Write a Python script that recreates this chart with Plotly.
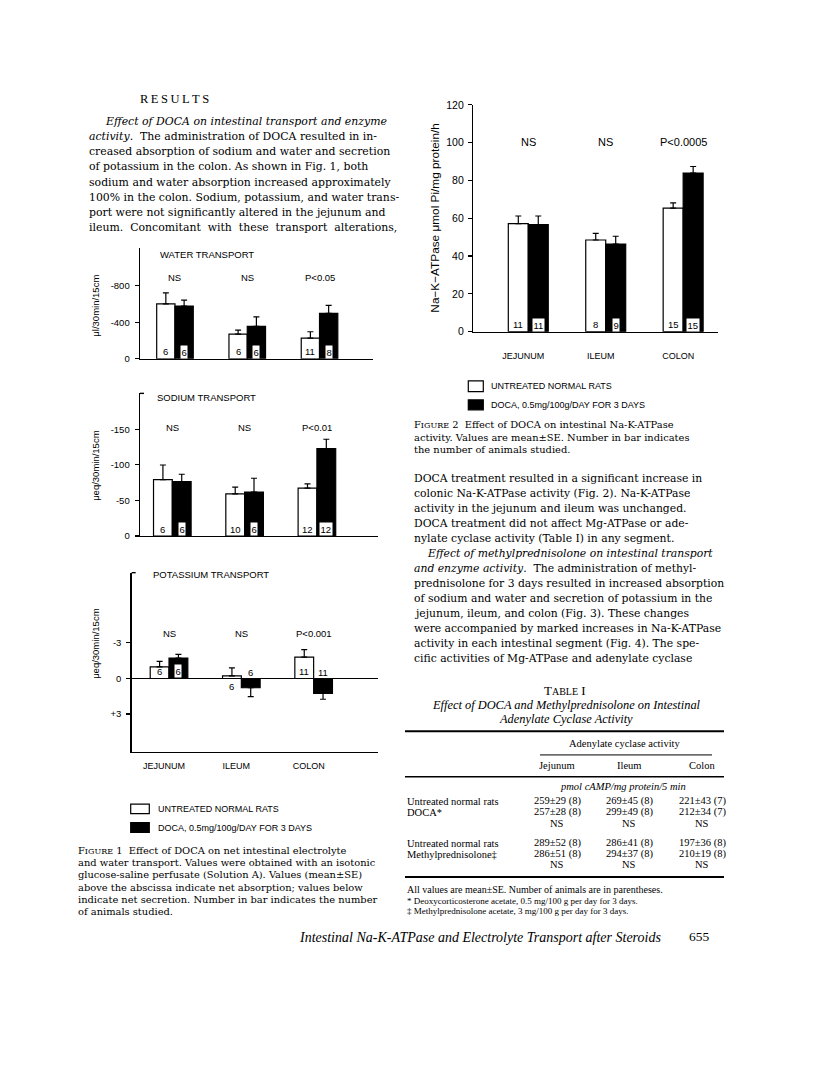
import plotly.graph_objects as go

W, H = 816, 1086
SANS = "Liberation Sans, Arial, sans-serif"
SERIF = "Liberation Serif, Times New Roman, serif"
BODY = "DejaVu Serif, serif"

# ---------------- data ----------------
segments = ["JEJUNUM", "ILEUM", "COLON"]
group_names = ["UNTREATED NORMAL RATS", "DOCA, 0.5mg/100g/DAY FOR 3 DAYS"]

# Figure 1 - water transport (ul/30min/15cm; negative = net absorption)
water_ctrl = [-602, -270, -227]
water_ctrl_se = [119, 44, 69]
water_doca = [-577, -354, -497]
water_doca_se = [65, 104, 87]
water_n_ctrl = [6, 6, 11]
water_n_doca = [6, 6, 8]
water_sig = ["NS", "NS", "P<0.05"]
water_ticks = [0, -400, -800]
water_ticktext = ["0", "-400", "-800"]

# Figure 1 - sodium transport (ueq/30min/15cm)
sodium_ctrl = [-79.4, -59.4, -67.3]
sodium_ctrl_se = [20.4, 9.3, 6.1]
sodium_doca = [-76.6, -61.8, -123.0]
sodium_doca_se = [10.2, 19.4, 13.0]
sodium_n_ctrl = [6, 10, 12]
sodium_n_doca = [6, 6, 12]
sodium_sig = ["NS", "NS", "P<0.01"]
sodium_ticks = [0, -50, -100, -150]
sodium_ticktext = ["0", "-50", "-100", "-150"]

# Figure 1 - potassium transport (ueq/30min/15cm)
pot_ctrl = [-0.97, -0.22, -1.80]
pot_ctrl_se = [0.47, 0.67, 0.64]
pot_doca = [-1.72, 0.78, 1.25]
pot_doca_se = [0.31, 0.75, 0.50]
pot_n_ctrl = [6, 6, 11]
pot_n_doca = [6, 6, 11]
pot_sig = ["NS", "NS", "P<0.001"]
pot_ticks = [-3, 0, 3]
pot_ticktext = ["-3", "0", "+3"]

# Figure 2 - Na-K-ATPase (umol Pi/mg protein/h)
atp_ctrl = [57.2, 48.5, 65.4]
atp_ctrl_se = [4.0, 3.5, 2.8]
atp_doca = [56.7, 46.4, 83.9]
atp_doca_se = [4.5, 4.1, 3.5]
atp_n_ctrl = [11, 8, 15]
atp_n_doca = [11, 9, 15]
atp_sig = ["NS", "NS", "P<0.0005"]
atp_ticks = [0, 20, 40, 60, 80, 100, 120]

# Table I - adenylate cyclase activity
table_cols = ["Jejunum", "Ileum", "Colon"]
table_unit = "pmol cAMP/mg protein/5 min"
tab_rows = [
    ("Untreated normal rats", ["259\u00b129 (8)", "269\u00b145 (8)", "221\u00b143 (7)"]),
    ("DOCA*", ["257\u00b128 (8)", "299\u00b149 (8)", "212\u00b134 (7)"]),
    ("", ["NS", "NS", "NS"]),
    ("Untreated normal rats", ["289\u00b152 (8)", "286\u00b141 (8)", "197\u00b136 (8)"]),
    ("Methylprednisolone\u2021", ["286\u00b151 (8)", "294\u00b137 (8)", "210\u00b119 (8)"]),
    ("", ["NS", "NS", "NS"]),
]

# ---------------- helpers ----------------
def px(x):
    return x / W

def py(y):
    return 1 - y / H

ann = []
shapes = []

def txt(x, y, s, size=13, anchor="left", family=SERIF, **kw):
    ann.append(dict(xref="paper", yref="paper", x=px(x), y=py(y), text=s,
                    showarrow=False, xanchor=anchor, yanchor="middle",
                    font=dict(family=family, size=size, color="black"), **kw))

def hline(x0, x1, y, w=1.0):
    shapes.append(dict(type="line", xref="paper", yref="paper", x0=px(x0), x1=px(x1),
                       y0=py(y), y1=py(y), line=dict(color="black", width=w)))

def rect(x0, x1, y0, y1, fill):
    shapes.append(dict(type="rect", xref="paper", yref="paper", x0=px(x0), x1=px(x1),
                       y0=py(y1), y1=py(y0), fillcolor=fill, line=dict(color="black", width=1.2)))

panels = [
    dict(title="WATER TRANSPORT", ylab="\u03bcl/30min/15cm",
         ctrl=water_ctrl, ctrl_se=water_ctrl_se, doca=water_doca, doca_se=water_doca_se,
         n_ctrl=water_n_ctrl, n_doca=water_n_doca, sig=water_sig,
         tv=water_ticks, tt=water_ticktext, box=(140, 373, 245, 356.7), yrange=[0, -1210],
         xrange=[-0.484, 2.74], bw=0.253, up=-1, title_xy=(158, 251.7), sig_y=275,
         ylab_xy=(96, 303), showcat=False, fs=9.5, lfs=9.5, tfs=9.5, tso=3, zl=False,
         toptick=False),
    dict(title="SODIUM TRANSPORT", ylab="\u03bceq/30min/15cm",
         ctrl=sodium_ctrl, ctrl_se=sodium_ctrl_se, doca=sodium_doca, doca_se=sodium_doca_se,
         n_ctrl=sodium_n_ctrl, n_doca=sodium_n_doca, sig=sodium_sig,
         tv=sodium_ticks, tt=sodium_ticktext, box=(140, 378, 391.7, 536), yrange=[0, -200.4],
         xrange=[-0.447, 2.845], bw=0.26, up=-1, title_xy=(155, 396), sig_y=426.7,
         ylab_xy=(96, 465), showcat=False, fs=9.5, lfs=9.5, tfs=9.5, tso=3, zl=False,
         toptick=True),
    dict(title="POTASSIUM TRANSPORT", ylab="\u03bceq/30min/15cm",
         ctrl=pot_ctrl, ctrl_se=pot_ctrl_se, doca=pot_doca, doca_se=pot_doca_se,
         n_ctrl=pot_n_ctrl, n_doca=pot_n_doca, sig=pot_sig,
         tv=pot_ticks, tt=pot_ticktext, box=(131.7, 378, 573, 754), yrange=[6.17, -8.92],
         xrange=[-0.516, 2.89], bw=0.26, up=-1, title_xy=(150.7, 575), sig_y=635,
         ylab_xy=(96, 645), showcat=True, standoff=5, fs=9.5, lfs=9.5, tfs=9.5, tso=3,
         zl=True, toptick=True),
    dict(title=None, ylab="Na\u2212K\u2212ATPase \u03bcmol Pi/mg protein/h",
         ctrl=atp_ctrl, ctrl_se=atp_ctrl_se, doca=atp_doca, doca_se=atp_doca_se,
         n_ctrl=atp_n_ctrl, n_doca=atp_n_doca, sig=atp_sig,
         tv=atp_ticks, tt=[str(t) for t in atp_ticks], box=(473.3, 718, 100, 329.3),
         yrange=[0, 120], xrange=[-0.71, 2.45], bw=0.258, up=1, title_xy=None, sig_y=137.3,
         ylab_xy=(435, 214), showcat=True, standoff=15, fs=11, lfs=11.8, tfs=10.5, tso=2,
         zl=False, toptick=False),
]

fig = go.Figure()
layout_axes = {}

for i, p in enumerate(panels):
    sx = "" if i == 0 else str(i + 1)
    xa, ya = "x" + sx, "y" + sx
    x0, x1, y0, y1 = p["box"]
    bw = p["bw"]
    for vals, ses, color, off, name in [
        (p["ctrl"], p["ctrl_se"], "white", -bw, group_names[0]),
        (p["doca"], p["doca_se"], "black", 0.0, group_names[1]),
    ]:
        plus = [s if v > 0 else 0 for v, s in zip(vals, ses)]
        minus = [s if v < 0 else 0 for v, s in zip(vals, ses)]
        fig.add_trace(go.Bar(
            x=segments, y=vals, width=bw, offset=off, name=name,
            marker=dict(color=color, line=dict(color="black", width=1.2)),
            error_y=dict(type="data", symmetric=False, array=plus, arrayminus=minus,
                         color="black", thickness=1.2, width=3),
            xaxis=xa, yaxis=ya, showlegend=False, hoverinfo="skip"))

    layout_axes["xaxis" + sx] = dict(
        domain=[px(x0), px(x1)], anchor=ya, type="category", categoryarray=segments,
        range=p["xrange"], showline=True, linecolor="black", linewidth=1.4,
        ticks="", showgrid=False, zeroline=False, showticklabels=p["showcat"],
        tickfont=dict(family=SANS, size=9, color="black"),
        ticklabelstandoff=p.get("standoff", 0), ticklabelshift=-5, fixedrange=True)
    layout_axes["yaxis" + sx] = dict(
        domain=[py(y1), py(y0)], anchor=xa, range=p["yrange"], autorange=False,
        showline=True, linecolor="black", linewidth=1.4, ticks="outside", ticklen=4,
        tickwidth=1.2, tickcolor="black", tickvals=p["tv"], ticktext=p["tt"],
        tickfont=dict(family=SANS, size=p["tfs"], color="black"),
        ticklabelstandoff=p["tso"],
        showgrid=False, zeroline=p["zl"], zerolinecolor="black", zerolinewidth=1.4,
        fixedrange=True)

    if p["title"]:
        txt(p["title_xy"][0], p["title_xy"][1], p["title"], size=9.5, family=SANS)
    txt(p["ylab_xy"][0], p["ylab_xy"][1], p["ylab"], size=p["lfs"],
        anchor="center", family=SANS, textangle=-90)
    for j, s in enumerate(p["sig"]):
        ann.append(dict(xref=xa, yref="paper", x=j, y=py(p["sig_y"]), text=s,
                        showarrow=False, xanchor="center", yanchor="middle",
                        font=dict(family=SANS, size=p["fs"], color="black")))
    # numbers of animals inside / next to the bars
    ppu = (y1 - y0) / abs(p["yrange"][1] - p["yrange"][0])
    for j in range(3):
        for vals, ns, pos, dark in [(p["ctrl"], p["n_ctrl"], j - bw / 2, False),
                                    (p["doca"], p["n_doca"], j + bw / 2, True)]:
            v = vals[j]
            goes_up = v * p["up"] > 0
            hpx = abs(v) * ppu
            boxed = False
            if goes_up and hpx >= 10:
                ys = 7
                boxed = dark
            elif goes_up:
                ys = -8
            else:
                ys = 6
            a = dict(xref=xa, yref=ya, x=pos, y=0, yshift=ys, text=str(ns[j]), showarrow=False,
                     xanchor="center", yanchor="middle",
                     font=dict(family=SANS, size=9.5, color="black"))
            if boxed:
                a.update(bgcolor="white", borderpad=0.5)
            ann.append(a)
    if p["toptick"]:
        hline(x0, x0 + 4, y0, 1.4)

# ---------------- legends ----------------
rect(130.7, 149.3, 807, 816.7, "white")
rect(130.7, 149.3, 825.7, 835.7, "black")
txt(156, 812, group_names[0], size=9, family=SANS)
txt(156, 831, group_names[1], size=9, family=SANS)
rect(468.3, 483.3, 379, 390, "white")
rect(468.3, 483.3, 398.3, 408.3, "black")
txt(489.3, 384.7, group_names[0], size=9, family=SANS)
txt(489.3, 403, group_names[1], size=9, family=SANS)

SC = "<span style='font-size:8px'>"

# ---------------- body text, left column ----------------
txt(138, 94.3, "R\u2009E\u2009S\u2009U\u2009L\u2009T\u2009S", size=12.5)
left_lines = [
    "<i>Effect of DOCA on intestinal transport and enzyme</i>",
    "<i>activity</i>.  The administration of DOCA resulted in in-",
    "creased absorption of sodium and water and secretion",
    "of potassium in the colon. As shown in Fig. 1, both",
    "sodium and water absorption increased approximately",
    "100% in the colon. Sodium, potassium, and water trans-",
    "port were not significantly altered in the jejunum and",
    "ileum.  Concomitant  with  these  transport  alterations,",
]
left_y = [116.7, 131.7, 146.7, 162.3, 178.3, 193.3, 209, 224.3]
for k, (s, y) in enumerate(zip(left_lines, left_y)):
    txt(103 if k == 0 else 87, y, s, size=10.9, family=BODY)

cap1 = [
    "F" + SC + "IGURE</span> 1  Effect of DOCA on net intestinal electrolyte",
    "and water transport. Values were obtained with an isotonic",
    "glucose-saline perfusate (Solution A). Values (mean\u00b1SE)",
    "above the abscissa indicate net absorption; values below",
    "indicate net secretion. Number in bar indicates the number",
    "of animals studied.",
]
for k, s in enumerate(cap1):
    txt(76, 853.5 + 12.5 * k, s, size=9.9, family=BODY)

# ---------------- right column ----------------
cap2 = [
    "F" + SC + "IGURE</span> 2  Effect of DOCA on intestinal Na-K-ATPase",
    "activity. Values are mean\u00b1SE. Number in bar indicates",
    "the number of animals studied.",
]
for k, s in enumerate(cap2):
    txt(412, 423.5 + 12.6 * k, s, size=9.9, family=BODY)

right_lines = [
    "DOCA treatment resulted in a significant increase in",
    "colonic Na-K-ATPase activity (Fig. 2). Na-K-ATPase",
    "activity in the jejunum and ileum was unchanged.",
    "DOCA treatment did not affect Mg-ATPase or ade-",
    "nylate cyclase activity (Table I) in any segment.",
    "<i>Effect of methylprednisolone on intestinal transport</i>",
    "<i>and enzyme activity</i>.  The administration of methyl-",
    "prednisolone for 3 days resulted in increased absorption",
    "of sodium and water and secretion of potassium in the",
    "jejunum, ileum, and colon (Fig. 3). These changes",
    "were accompanied by marked increases in Na-K-ATPase",
    "activity in each intestinal segment (Fig. 4). The spe-",
    "cific activities of Mg-ATPase and adenylate cyclase",
]
for k, s in enumerate(right_lines):
    txt(425 if k == 5 else 412, 477.3 + 15.22 * k, s, size=10.8, family=BODY)

# ---------------- Table I ----------------
txt(565, 691.7, "T" + "<span style='font-size:10px'>ABLE</span> I", size=13, anchor="center")
txt(566, 706.7, "<i>Effect of DOCA and Methylprednisolone on Intestinal</i>", size=12.4, anchor="center")
txt(566, 720.7, "<i>Adenylate Cyclase Activity</i>", size=12.4, anchor="center")
hline(405, 724, 733.3, 2)
txt(625, 746, "Adenylate cyclase activity", size=10.5, anchor="center")
hline(540, 712, 757.3, 1)
col_x = [557, 629, 702]
for cx, c in zip(col_x, table_cols):
    txt(cx, 768.3, c, size=10.5, anchor="center")
hline(405, 724, 779.3, 1.5)
txt(623, 789, "<i>" + table_unit + "</i>", size=10.5, anchor="center")
row_y = [804, 815.5, 826.5, 846.5, 857.5, 868.5]
for (lab, cells), y in zip(tab_rows, row_y):
    if lab:
        txt(405, y, lab, size=10.5)
    for cx, c in zip(col_x, cells):
        txt(cx, y, c, size=10.5, anchor="center")
hline(405, 724, 880.7, 2)
txt(405, 893.3, "All values are mean\u00b1SE. Number of animals are in parentheses.", size=10)
txt(405, 904.6, "* Deoxycorticosterone acetate, 0.5 mg/100 g per day for 3 days.", size=9)
txt(405, 915.6, "\u2021 Methylprednisolone acetate, 3 mg/100 g per day for 3 days.", size=9)

# ---------------- footer ----------------
txt(297, 942, "<i>Intestinal Na-K-ATPase and Electrolyte Transport after Steroids</i>", size=14)
txt(687, 941, "655", size=13.5)

fig.update_layout(
    width=W, height=H, margin=dict(l=0, r=0, t=0, b=0),
    paper_bgcolor="white", plot_bgcolor="rgba(0,0,0,0)",
    showlegend=False, barmode="overlay",
    annotations=ann, shapes=shapes, **layout_axes)

fig.write_html("out.html", config={"displayModeBar": False, "staticPlot": True},
               post_script="document.body.style.margin='0px';")
